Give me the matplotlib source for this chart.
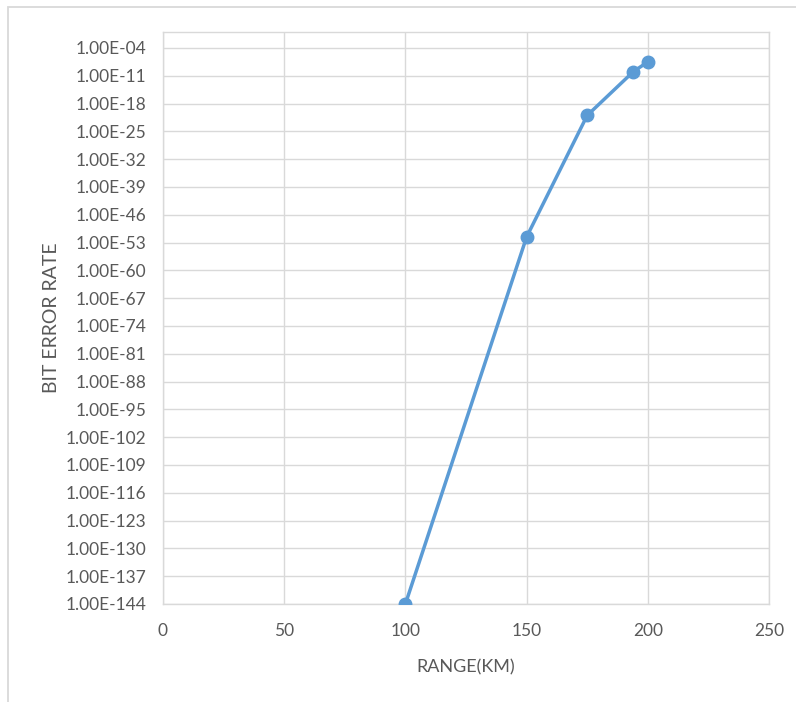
import matplotlib
matplotlib.use("Agg")
import matplotlib.pyplot as plt
from matplotlib.patches import Rectangle

plt.rcParams["font.family"] = ["Lato", "DejaVu Sans"]

range_km = [100, 150, 175, 194, 200]
ber = [1e-144, 2.5e-52, 1e-21, 1e-10, 3e-8]
ytick_exps = list(range(-4, -145, -7))
ytick_labels = ["1.00E-%02d" % (-e) for e in ytick_exps]
xticks = [0, 50, 100, 150, 200, 250]

W, H = 796, 702
fig = plt.figure(figsize=(W / 100, H / 100), dpi=100)
fig.patch.set_facecolor("white")
fig.patches.append(Rectangle((8 / W, -0.1), 1.2, 1 - 7 / H + 0.1, transform=fig.transFigure,
                             fill=False, edgecolor="#d9d9d9", linewidth=1.3))

ax = fig.add_axes([163 / W, 1 - 604 / H, (769 - 163) / W, (604 - 32) / H])
ax.set_yscale("log")
ax.set_ylim(1e-144, 1e0)
ax.set_xlim(0, 250)
ax.set_yticks([10.0 ** e for e in ytick_exps])
ax.set_yticklabels(ytick_labels)
ax.yaxis.set_minor_locator(matplotlib.ticker.NullLocator())
ax.set_xticks(xticks)
ax.set_xticklabels([str(v) for v in xticks])

ax.grid(True, color="#d9d9d9", linewidth=1)
ax.set_axisbelow(True)
for s in ax.spines.values():
    s.set_color("#d9d9d9")
    s.set_linewidth(1)
ax.tick_params(length=0, labelsize=12.5, colors="#595959")
ax.tick_params(axis="y", pad=12)
ax.tick_params(axis="x", pad=14)

ax.plot(range_km, ber, color="#5B9BD5", linewidth=2.5, marker="o", markersize=9, zorder=3)

ax.set_xlabel("RANGE(KM)", fontsize=13, color="#595959", labelpad=14)
ax.set_ylabel("BIT ERROR RATE", fontsize=14, color="#595959", labelpad=4)

fig.savefig("out.png", dpi=100)
